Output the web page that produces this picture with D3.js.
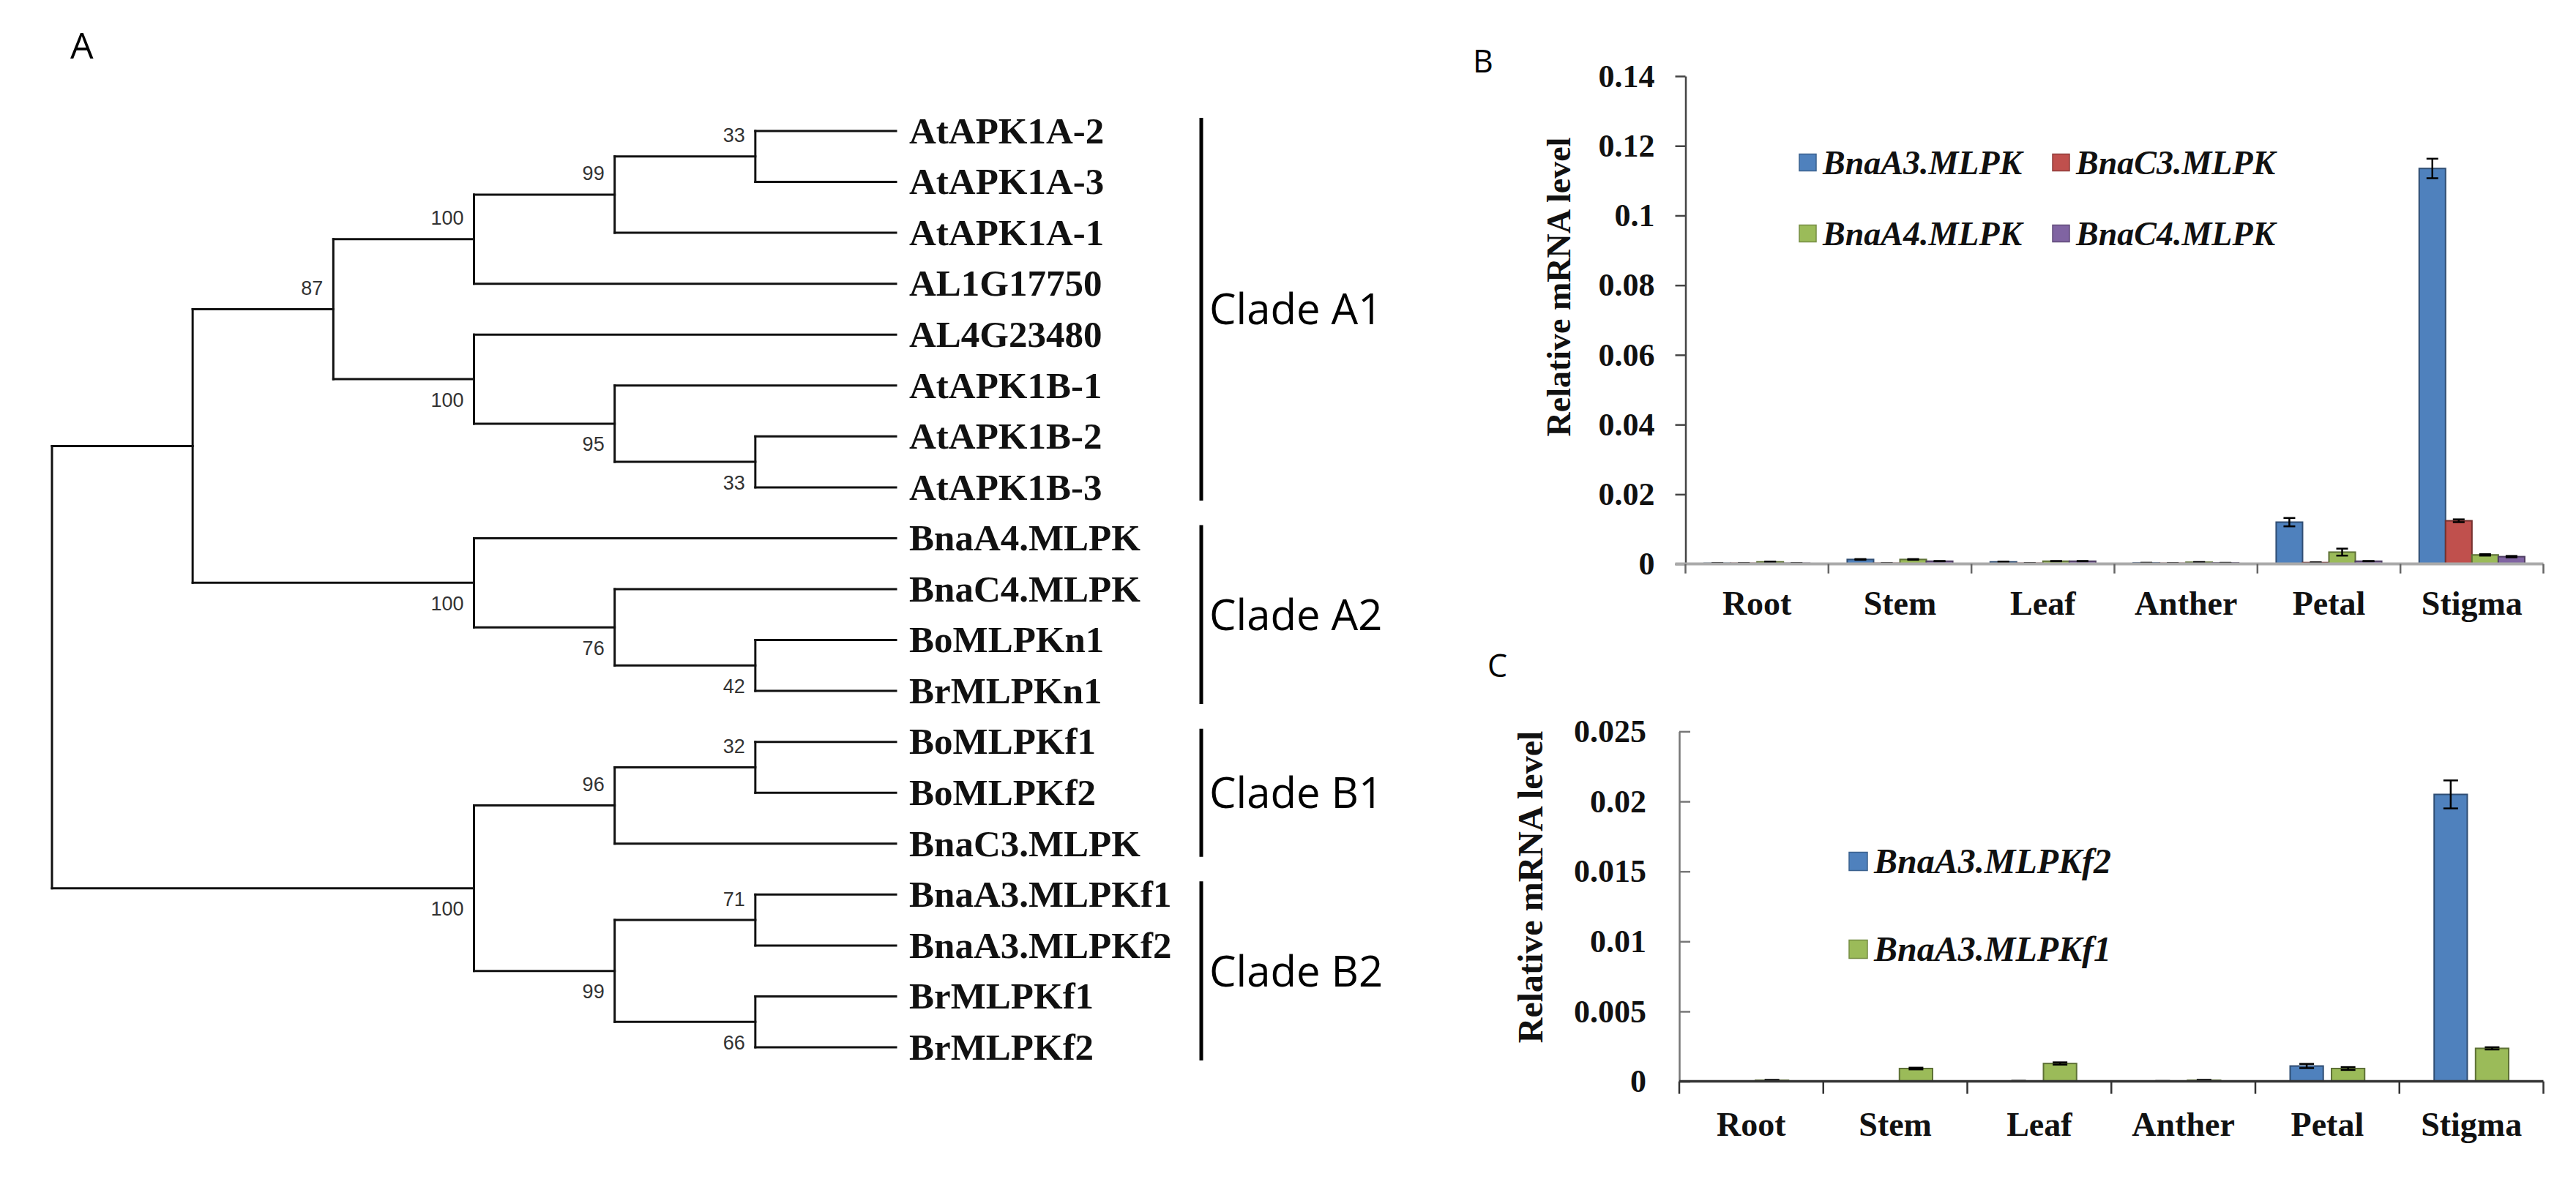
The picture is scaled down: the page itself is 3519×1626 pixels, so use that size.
<!DOCTYPE html>
<html><head><meta charset="utf-8">
<script src="https://cdn.jsdelivr.net/npm/d3@7"></script>
<style>body{margin:0;background:#fff}svg{display:block}</style>
</head><body><svg id="fig" width="3519" height="1626"></svg>
<script>
// ---------- DATA ----------
const treeNewick = "((((((AtAPK1A-2,AtAPK1A-3)33,AtAPK1A-1)99,AL1G17750)100,(AL4G23480,(AtAPK1B-1,(AtAPK1B-2,AtAPK1B-3)33)95)100)87,(BnaA4.MLPK,(BnaC4.MLPK,(BoMLPKn1,BrMLPKn1)42)76)100),(((BoMLPKf1,BoMLPKf2)32,BnaC3.MLPK)96,((BnaA3.MLPKf1,BnaA3.MLPKf2)71,(BrMLPKf1,BrMLPKf2)66)99)100);";
const cladeNames = ["Clade A1","Clade A2","Clade B1","Clade B2"];
const cladeFirst = ["AtAPK1A-2","BnaA4.MLPK","BoMLPKf1","BnaA3.MLPKf1"];
const cladeLast  = ["AtAPK1B-3","BrMLPKn1","BnaC3.MLPK","BrMLPKf2"];

const tissues = ["Root","Stem","Leaf","Anther","Petal","Stigma"];

const seriesB = ["BnaA3.MLPK","BnaC3.MLPK","BnaA4.MLPK","BnaC4.MLPK"];
const colorsB = ["#4F81BD","#C0504D","#9BBB59","#8064A2"];
const bnaA3 = [0.0002,0.0013,0.0006,0.0003,0.0120,0.1135];
const bnaA3Err = [0.00005,0.0001,0.00005,0.00005,0.0012,0.0028];
const bnaC3 = [0.0002,0.0002,0.0002,0.0002,0.0004,0.0124];
const bnaC3Err = [0.00003,0.00003,0.00003,0.00003,0.00005,0.0004];
const bnaA4 = [0.0006,0.0013,0.0008,0.0005,0.0034,0.0026];
const bnaA4Err = [0.00005,0.0001,0.00005,0.00005,0.0010,0.0002];
const bnaC4 = [0.0002,0.0008,0.0008,0.0003,0.0008,0.0021];
const bnaC4Err = [0.00003,0.00005,0.00005,0.00003,0.00005,0.0002];
const ticksB = [0,0.02,0.04,0.06,0.08,0.1,0.12,0.14];

const seriesC = ["BnaA3.MLPKf2","BnaA3.MLPKf1"];
const colorsC = ["#4F81BD","#9BBB59"];
const mlpkf2 = [0,0,0.00003,0.00002,0.0011,0.0205];
const mlpkf2Err = [0,0,0.00001,0.00001,0.00015,0.0010];
const mlpkf1 = [0.00008,0.00092,0.00128,0.00008,0.00092,0.00236];
const mlpkf1Err = [0.00003,0.00006,0.00008,0.00003,0.0001,0.00008];
const ticksC = [0,0.005,0.01,0.015,0.02,0.025];

// ---------- HELPERS ----------
function parseNewick(s){
  let i=0;
  function node(){
    const n={};
    if(s[i]==='('){
      i++; n.children=[node()];
      while(s[i]===','){i++; n.children.push(node());}
      i++;
    }
    let lab='';
    while(i<s.length && !',();'.includes(s[i])) lab+=s[i++];
    if(n.children) n.support = lab||null; else n.name = lab;
    return n;
  }
  return node();
}
const svg = d3.select("#fig");
const SERIF = "'Liberation Serif','Times New Roman',serif";
const SANS = "'Open Sans','Noto Sans',sans-serif";

// ---------- PANEL A : TREE ----------
svg.append("text").attr("x",96).attr("y",80).attr("font-family",SANS).attr("font-size",50).text("A");

const root = d3.hierarchy(parseNewick(treeNewick));
const leaves = root.leaves();
const yLeaf = d3.scalePoint(leaves.map(d=>d.data.name),[179,1431]);
const xDepth = d3.scaleLinear([root.height,0],[71,1224]);
root.eachAfter(n=>{
  n.px = xDepth(n.height);
  n.py = n.children ? (n.children[0].py + n.children[n.children.length-1].py)/2 : yLeaf(n.data.name);
});
const gT = svg.append("g").attr("stroke","#111").attr("stroke-width",3).attr("stroke-linecap","square");
gT.selectAll("line.h").data(root.descendants().filter(d=>d.parent)).join("line")
  .attr("x1",d=>d.parent.px).attr("x2",d=>d.px).attr("y1",d=>d.py).attr("y2",d=>d.py);
gT.selectAll("line.v").data(root.descendants().filter(d=>d.children)).join("line")
  .attr("x1",d=>d.px).attr("x2",d=>d.px)
  .attr("y1",d=>d.children[0].py).attr("y2",d=>d.children[d.children.length-1].py);

svg.append("g").selectAll("text").data(root.descendants().filter(d=>d.data.support && d.parent)).join("text")
  .attr("x",d=>d.px-14)
  .attr("y",d=>d.py + (d.parent.children[0]===d ? -28.5 : 28.5))
  .attr("text-anchor","end").attr("dominant-baseline","central")
  .attr("font-family","'Liberation Sans',Arial,sans-serif").attr("font-size",27).attr("fill","#333")
  .text(d=>d.data.support);

svg.append("g").selectAll("text").data(leaves).join("text")
  .attr("x",1242).attr("y",d=>d.py).attr("dy","0.33em")
  .attr("font-family",SERIF).attr("font-weight","bold").attr("font-size",51).attr("fill","#111")
  .text(d=>d.data.name);

const gC = svg.append("g");
cladeNames.forEach((c,i)=>{
  const y1 = yLeaf(cladeFirst[i])-18, y2 = yLeaf(cladeLast[i])+18;
  gC.append("line").attr("x1",1641).attr("x2",1641).attr("y1",y1).attr("y2",y2)
    .attr("stroke","#000").attr("stroke-width",5);
  gC.append("text").attr("x",1652).attr("y",(y1+y2)/2).attr("dy","0.36em")
    .attr("font-family",SANS).attr("font-size",58).text(c);
});

// ---------- BAR PANEL FUNCTION ----------
function barPanel(o){
  const x = d3.scaleBand(tissues,[o.x0,o.x1]);
  const y = d3.scaleLinear([0,o.ymax],[o.y0,o.y1]);
  const sub = d3.scaleBand(o.series,[0,x.bandwidth()]).paddingInner(o.pin).paddingOuter(o.pout);
  const g = svg.append("g");
  // y axis
  const ax = g.append("g").attr("transform",`translate(${o.x0},0)`)
    .call(d3.axisLeft(y).tickValues(o.ticks).tickFormat(d=>String(d)).tickSize(o.tick).tickPadding(o.tpad).tickSizeOuter(0));
  ax.select(".domain").attr("stroke",o.ycol).attr("stroke-width",2.5);
  ax.selectAll(".tick line").attr("stroke",o.ycol).attr("stroke-width",2.5);
  ax.selectAll(".tick text").attr("font-family",SERIF).attr("font-weight","bold").attr("font-size",44).attr("fill","#111");
  // y title
  g.append("text").attr("transform",`translate(${o.titleX},${o.titleY}) rotate(-90)`)
    .attr("text-anchor","middle").attr("dominant-baseline","central")
    .attr("font-family",SERIF).attr("font-weight","bold").attr("font-size",o.titleSize).attr("fill","#111")
    .text("Relative mRNA level");
  // bars
  o.series.forEach((s,si)=>{
    const vals=o.values[si], errs=o.errors[si], col=o.colors[si];
    const gs = g.append("g");
    gs.selectAll("rect").data(tissues).join("rect")
      .attr("x",t=>x(t)+sub(s)).attr("width",sub.bandwidth())
      .attr("y",(t,i)=>y(vals[i])).attr("height",(t,i)=>y(0)-y(vals[i]))
      .attr("fill",col).attr("stroke",d3.color(col).darker(1.4)).attr("stroke-width",2);
    const ge = gs.append("g").attr("stroke","#000").attr("stroke-width",2.5);
    tissues.forEach((t,i)=>{
      if(!errs[i]) return;
      const cx = x(t)+sub(s)+sub.bandwidth()/2;
      const ya=y(vals[i]+errs[i]), yb=y(Math.max(0,vals[i]-errs[i]));
      ge.append("line").attr("x1",cx).attr("x2",cx).attr("y1",ya).attr("y2",yb);
      ge.append("line").attr("x1",cx-o.cap).attr("x2",cx+o.cap).attr("y1",ya).attr("y2",ya);
      ge.append("line").attr("x1",cx-o.cap).attr("x2",cx+o.cap).attr("y1",yb).attr("y2",yb);
    });
  });
  // x axis line and ticks
  g.append("line").attr("x1",o.x0-o.xext).attr("x2",o.x1).attr("y1",y(0)).attr("y2",y(0))
    .attr("stroke",o.xcol).attr("stroke-width",o.xw);
  g.selectAll("line.xt").data(tissues.map(t=>x(t)).concat([o.x1])).join("line")
    .attr("x1",d=>d).attr("x2",d=>d).attr("y1",y(0)).attr("y2",y(0)+o.xtick)
    .attr("stroke",o.xtcol).attr("stroke-width",2.5);
  g.selectAll("text.xl").data(tissues).join("text")
    .attr("x",t=>x(t)+x.bandwidth()/2).attr("y",o.labBase).attr("text-anchor","middle")
    .attr("font-family",SERIF).attr("font-weight","bold").attr("font-size",46).attr("fill","#111")
    .text(t=>t);
  // legend
  o.series.forEach((s,si)=>{
    const lx=o.legX[si], ly=o.legY[si];
    g.append("rect").attr("x",lx).attr("y",ly-o.sq/2).attr("width",o.sq).attr("height",o.sq)
      .attr("fill",o.colors[si]).attr("stroke",d3.color(o.colors[si]).darker(0.8)).attr("stroke-width",1.5);
    g.append("text").attr("x",lx+o.sq+9).attr("y",ly).attr("dy","0.34em")
      .attr("font-family",SERIF).attr("font-weight","bold").attr("font-style","italic")
      .attr("font-size",o.legSize).attr("fill","#111").text(s);
  });
  // panel letter
  svg.append("text").attr("x",o.letterX).attr("y",o.letterY).attr("font-family",SANS).attr("font-size",43).text(o.letter);
}

barPanel({
  letter:"B", letterX:2012, letterY:99,
  x0:2302.5, x1:3474.5, y0:770.6, y1:104, ymax:0.14, ticks:ticksB,
  tick:14, tpad:28, ycol:"#444",
  titleX:2129, titleY:392, titleSize:46,
  series:seriesB, colors:colorsB,
  values:[bnaA3,bnaC3,bnaA4,bnaC4], errors:[bnaA3Err,bnaC3Err,bnaA4Err,bnaC4Err],
  pin:0, pout:0.71, cap:8,
  xext:14, xcol:"#aaa", xw:4, xtick:13, xtcol:"#666", labBase:840,
  legX:[2458,2804,2458,2804], legY:[222,222,319,319], sq:23, legSize:46
});

barPanel({
  letter:"C", letterX:2032, letterY:925,
  x0:2294, x1:3474.5, y0:1477.6, y1:999.4, ymax:0.025, ticks:ticksC,
  tick:-15, tpad:45, ycol:"#777",
  titleX:2090, titleY:1212, titleSize:48,
  series:seriesC, colors:colorsC,
  values:[mlpkf2,mlpkf1], errors:[mlpkf2Err,mlpkf1Err],
  pin:0.2, pout:0.84, cap:10,
  xext:0, xcol:"#333", xw:3.5, xtick:17, xtcol:"#333", labBase:1552,
  legX:[2526,2526], legY:[1177,1297], sq:25, legSize:48
});
</script></body></html>
